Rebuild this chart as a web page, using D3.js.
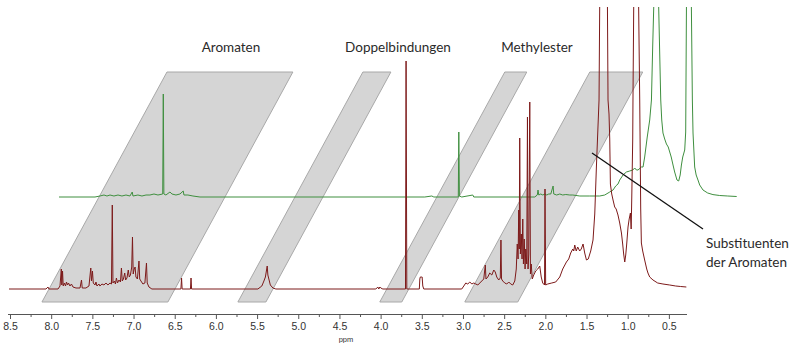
<!DOCTYPE html>
<html><head><meta charset="utf-8">
<script src="https://cdn.jsdelivr.net/npm/d3@7"></script>
<style>body{margin:0;background:#fff}svg{display:block}</style>
</head><body>
<svg id="chart" width="794" height="343"></svg>
<script>
// ---- data ----
const axisTicks = [8.5, 8.0, 7.5, 7.0, 6.5, 6.0, 5.5, 5.0, 4.5, 4.0, 3.5, 3.0, 2.5, 2.0, 1.5, 1.0, 0.5];
const minorTicks = [8.25, 7.75, 7.25, 6.75, 6.25, 5.75, 5.25, 4.75, 4.25, 3.75, 3.25, 2.75, 2.25, 1.75, 1.25, 0.75];
const axisTitle = "ppm";
const bandNames = ["Aromaten", "Doppelbindungen", "Doppelbindungen", "Substituenten der Aromaten"];
const bandRanges = [[8.112, 6.583], [5.733, 5.393], [4.010, 3.743], [2.978, 2.335]];
const labelTexts = ["Aromaten", "Doppelbindungen", "Methylester"];
const calloutText = ["Substituenten", "der Aromaten"];

// spectrum 1 (lower, dark red): [ppm, intensity]
const redSpectrum = [
[8.512,0],[8.063,0],[8.039,2],[8.027,0],[7.917,0],[7.893,3],[7.877,20],[7.871,4],[7.862,18],[7.854,3],[7.839,6],[7.826,3],[7.814,7],[7.802,4],[7.790,6],[7.772,3],[7.754,5],[7.735,2],[7.699,1],[7.650,1],[7.632,9],[7.623,1],[7.578,1],[7.541,3],[7.519,21],[7.511,8],[7.499,18],[7.489,6],[7.468,4],[7.456,7],[7.444,3],[7.420,5],[7.408,3],[7.383,5],[7.359,4],[7.335,6],[7.311,4],[7.286,6],[7.268,5],[7.258,84],[7.250,6],[7.232,8],[7.220,5],[7.208,11],[7.195,6],[7.177,9],[7.159,7],[7.147,21],[7.137,8],[7.123,10],[7.107,16],[7.096,9],[7.080,11],[7.064,19],[7.052,12],[7.038,14],[7.022,22],[7.013,52],[7.004,15],[6.992,20],[6.981,22],[6.971,12],[6.953,10],[6.934,28],[6.925,10],[6.910,8],[6.886,5],[6.862,6],[6.843,26],[6.834,6],[6.813,2],[6.777,0],
[6.425,0],[6.417,11],[6.410,0],[6.309,0],[6.302,11],[6.295,0],
[5.490,0],[5.442,3],[5.417,8],[5.399,12],[5.387,18],[5.377,23],[5.369,14],[5.357,10],[5.339,4],[5.308,1],[5.272,0],
[4.058,0],[4.034,2],[4.022,0],[4.010,2],[3.998,1],[3.973,0],
[3.698,0],[3.691,228],[3.682,0],
[3.530,0],[3.524,10],[3.518,12],[3.506,12],[3.496,12],[3.488,3],[3.476,0],
[3.015,0],[2.990,3],[2.966,6],[2.942,5],[2.917,7],[2.893,5],[2.869,6],[2.845,5],[2.820,4],[2.796,6],[2.772,8],[2.748,10],[2.729,24],[2.721,10],[2.699,12],[2.675,16],[2.650,14],[2.626,19],[2.608,17],[2.590,12],[2.566,9],[2.547,11],[2.539,49],[2.532,10],[2.517,8],[2.493,6],[2.468,5],[2.444,7],[2.420,5],[2.396,4],[2.371,8],[2.353,20],[2.341,45],[2.331,30],[2.323,79],[2.317,40],[2.311,151],[2.303,35],[2.292,55],[2.283,30],[2.274,70],[2.266,25],[2.256,50],[2.246,20],[2.238,40],[2.226,25],[2.217,172],[2.210,20],[2.201,35],[2.189,187],[2.181,15],[2.171,25],[2.159,10],[2.141,14],[2.117,18],[2.092,20],[2.068,23],[2.050,12],[2.032,6],[2.010,4],[2.004,100],[1.996,4],[1.971,5],[1.922,6],[1.874,7],[1.825,12],[1.789,20],[1.744,27],[1.716,30],[1.692,36],[1.667,40],[1.655,38],[1.643,44],[1.625,38],[1.607,42],[1.583,38],[1.564,40],[1.542,45],[1.522,36],[1.501,29],[1.479,30],[1.449,38],[1.421,49],[1.400,75],[1.380,122],[1.348,189],[1.340,282],[1.297,500],[1.246,282],[1.239,189],[1.227,175],[1.218,150],[1.210,105],[1.194,95],[1.178,89],[1.158,82],[1.140,80],[1.118,74],[1.097,66],[1.076,56],[1.061,45],[1.049,35],[1.036,27],[1.024,34],[1.012,45],[0.996,62],[0.982,70],[0.967,76],[0.958,60],[0.951,90],[0.939,150],[0.936,189],[0.927,282],[0.897,500],[0.867,282],[0.854,189],[0.842,80],[0.834,46],[0.818,38],[0.794,29],[0.769,20],[0.754,16],[0.733,12],[0.693,9],[0.636,6],[0.572,5],[0.490,4],[0.417,3],[0.357,2.5],[0.288,2]
];

// spectrum 2 (upper, green): [ppm, intensity]
const greenSpectrum = [
[8.524,0],[8.087,0],[8.027,1],[7.978,2],[7.942,1],[7.905,2],[7.857,1],[7.808,2],[7.760,1],[7.711,2],[7.663,1],[7.635,5],[7.626,1],[7.566,2],[7.517,1],[7.468,2],[7.420,2],[7.371,3],[7.323,2],[7.265,3],[7.258,103],[7.251,3],[7.226,2],[7.177,5],[7.153,3],[7.104,2],[7.056,3],[7.016,6],[7.007,2],[6.959,2],[6.898,1],[6.813,0],
[4.083,0],[3.998,1],[3.973,0],[3.676,0],[3.670,65],[3.663,1],[3.634,0],[3.500,2],[3.488,0],
[2.748,0],[2.717,2],[2.708,7],[2.699,2],[2.675,3],[2.650,2],[2.626,3],[2.602,2],[2.578,3],[2.553,3],[2.525,11],[2.517,3],[2.481,2],[2.444,3],[2.408,2],[2.371,2.5],[2.323,2],[2.286,2],[2.201,1],[2.080,1],[1.959,1],[1.898,2],[1.837,5],[1.797,7],[1.765,11],[1.737,13],[1.716,17],[1.676,22],[1.635,25],[1.595,26],[1.558,27],[1.534,29],[1.513,27],[1.494,27],[1.453,30],[1.433,30],[1.413,40],[1.382,60],[1.352,77],[1.331,97],[1.316,150],[1.303,190],[1.273,400],[1.243,190],[1.218,97],[1.206,77],[1.191,64],[1.170,58],[1.149,53],[1.127,50],[1.109,45],[1.091,40],[1.069,32],[1.049,25],[1.021,17],[1.000,16],[0.982,22],[0.967,32],[0.951,40],[0.927,47],[0.915,65],[0.906,190],[0.876,400],[0.846,190],[0.834,97],[0.826,64],[0.806,30],[0.788,22],[0.766,17],[0.745,12],[0.705,7],[0.648,4],[0.584,2.4],[0.502,1.5],[0.405,1],[0.296,0.5]
];

// ---- layout ----
const W = 794, H = 343;
const axisY = 314;
const baseY = 289, clipTop = 7;
const stackDx = 51, stackDy = -92;
const bandBottom = 302, bandTop = 72, bandSlant = 125;
const labelX = [231, 398, 537], labelY = 52;
const calloutFrom = [592, 153], calloutTo = [703, 229];
const calloutTextX = 706, calloutTextY = [248, 267];

const svg = d3.select("#chart");
const x = d3.scaleLinear().domain([8.5, 0.28]).range([10, 687]);
const y = d3.scaleLinear().domain([0, 282]).range([baseY, baseY - 282]);

// bands
svg.append("g").selectAll("polygon").data(bandRanges).join("polygon")
  .attr("points", d => [
      [x(d[0]), bandBottom], [x(d[1]), bandBottom],
      [x(d[1]) + bandSlant, bandTop], [x(d[0]) + bandSlant, bandTop]
    ].map(p => p.join(",")).join(" "))
  .attr("fill", "#d5d5d5").attr("stroke", "#a8a8a8").attr("stroke-width", 1);

// clip
svg.append("defs").append("clipPath").attr("id", "clipTop")
  .append("rect").attr("x", 0).attr("y", clipTop).attr("width", W).attr("height", H - clipTop);

const line = d3.line().x(d => x(d[0])).y(d => y(d[1]));
const traces = svg.append("g").attr("clip-path", "url(#clipTop)");
traces.append("g").attr("transform", `translate(${stackDx},${stackDy})`)
  .append("path").datum(greenSpectrum).attr("d", line)
  .attr("fill", "none").attr("stroke", "#3f8f3f").attr("stroke-width", 1).attr("stroke-linejoin", "round");
traces.append("path").datum(redSpectrum).attr("d", line)
  .attr("fill", "none").attr("stroke", "#7d1a1a").attr("stroke-width", 1).attr("stroke-linejoin", "round");

// axis
const axisG = svg.append("g").attr("transform", `translate(0,${axisY})`);
axisG.call(d3.axisBottom(x).tickValues(axisTicks).tickSize(5).tickPadding(4).tickSizeOuter(0)
  .tickFormat(d3.format(".1f")));
axisG.select(".domain").attr("stroke", "#555").attr("d", `M8,0.5H${x(0.28)}`);
axisG.selectAll(".tick line").attr("stroke", "#555");
axisG.selectAll(".tick text").attr("font-family", "'Liberation Sans', Arial, sans-serif")
  .attr("font-size", 10.5).attr("fill", "#333");
const minorG = svg.append("g").attr("transform", `translate(0,${axisY})`);
minorG.call(d3.axisBottom(x).tickValues(minorTicks).tickSize(3).tickFormat(""));
minorG.select(".domain").remove();
minorG.selectAll(".tick line").attr("stroke", "#555");
svg.append("text").attr("x", 346).attr("y", 342).attr("text-anchor", "middle")
  .attr("font-family", "'Liberation Sans', Arial, sans-serif").attr("font-size", 7.5)
  .attr("fill", "#333").text(axisTitle);

// labels
const font = "Lato, 'Open Sans', sans-serif";
svg.append("g").selectAll("text").data(labelTexts).join("text")
  .attr("x", (d, i) => labelX[i]).attr("y", labelY).attr("text-anchor", "middle")
  .attr("font-family", font).attr("font-size", 13.5).attr("fill", "#2a2a2a").text(d => d);

svg.append("line").attr("x1", calloutFrom[0]).attr("y1", calloutFrom[1])
  .attr("x2", calloutTo[0]).attr("y2", calloutTo[1])
  .attr("stroke", "#111").attr("stroke-width", 1.3);
svg.append("g").selectAll("text").data(calloutText).join("text")
  .attr("x", calloutTextX).attr("y", (d, i) => calloutTextY[i])
  .attr("font-family", font).attr("font-size", 13.5).attr("fill", "#2a2a2a").text(d => d);
</script>
</body></html>
